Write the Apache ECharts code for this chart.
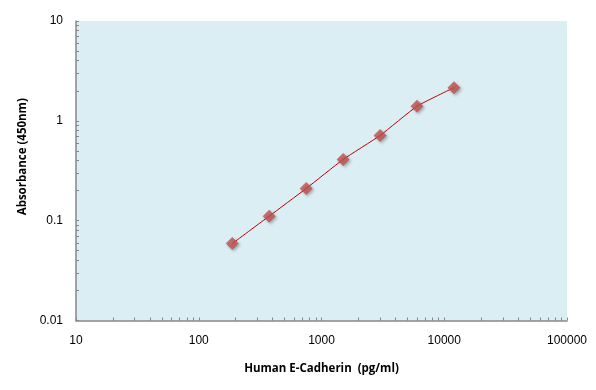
<!DOCTYPE html>
<html><head><meta charset="utf-8">
<script src="https://cdn.jsdelivr.net/npm/echarts@6/dist/echarts.min.js"></script>
<style>html,body{margin:0;padding:0;background:#fff}#c{width:596px;height:390px}</style>
</head><body><div id="c"></div>
<script>
const concentrations = [187.5, 375, 750, 1500, 3000, 6000, 12000];
const absorbance = [0.059, 0.111, 0.210, 0.410, 0.713, 1.40, 2.15];
const xTickValues = [];
for (let d = 10; d < 100000; d *= 10) { for (let k = 1; k < 10; k++) xTickValues.push(d * k); }
xTickValues.push(100000);
const yTickValues = [];
for (let d = 0.01; d < 10; d *= 10) { for (let k = 1; k < 10; k++) yTickValues.push(+(d * k).toPrecision(3)); }
yTickValues.push(10);
const pts = concentrations.map((c, i) => [c, absorbance[i]]);
const chart = echarts.init(document.getElementById('c'));
const axisColor = '#868686';
const lblFont = { fontFamily: 'Liberation Sans', fontSize: 12, color: '#000' };
chart.setOption({
  animation: false,
  grid: { left: 76, right: 29, top: 21, bottom: 69.5, show: true, backgroundColor: '#dbeef4', borderWidth: 0 },
  xAxis: {
    type: 'log', logBase: 10, min: 10, max: 100000,
    name: 'Human E-Cadherin  (pg/ml)', nameLocation: 'middle', nameGap: 42,
    nameTextStyle: { fontFamily: 'Open Sans', fontWeight: 'bold', fontSize: 11.5, color: '#000' },
    axisLine: { lineStyle: { color: axisColor, width: 1.5 } },
    axisTick: { inside: true, length: 3, lineStyle: { color: axisColor }, customValues: xTickValues },
    axisLabel: Object.assign({ margin: 14, formatter: v => String(v) }, lblFont),
    splitLine: { show: false }
  },
  yAxis: {
    type: 'log', logBase: 10, min: 0.01, max: 10,
    name: 'Absorbance (450nm)', nameLocation: 'middle', nameGap: 47, nameRotate: 90,
    nameTextStyle: { fontFamily: 'Open Sans', fontWeight: 'bold', fontSize: 11.5, color: '#000', padding: [0, 0, 0, 28] },
    axisLine: { show: true, lineStyle: { color: axisColor, width: 1.5 } },
    axisTick: { show: true, inside: true, length: 3, lineStyle: { color: axisColor }, customValues: yTickValues },
    axisLabel: Object.assign({ margin: 13, formatter: v => String(v) }, lblFont),
    splitLine: { show: false }
  },
  series: [
    { type: 'line', data: pts, smooth: 0.15, showSymbol: false, lineStyle: { color: '#c00000', width: 1 }, z: 2 },
    { type: 'scatter', data: pts, symbol: 'diamond', symbolSize: 13,
      itemStyle: { color: '#c0504d', shadowBlur: 3, shadowColor: 'rgba(0,0,0,0.35)', shadowOffsetX: 1.5, shadowOffsetY: 1.5 }, z: 3 }
  ]
});
</script></body></html>
